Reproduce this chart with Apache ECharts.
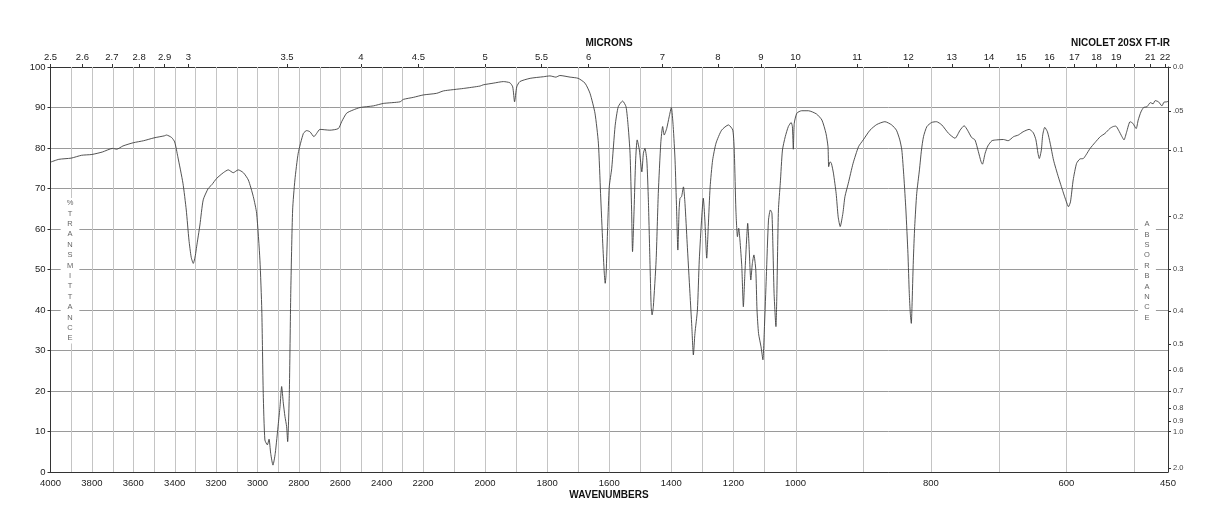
<!DOCTYPE html>
<html><head><meta charset="utf-8">
<script src="https://cdn.jsdelivr.net/npm/echarts@6/dist/echarts.min.js"></script>
<style>html,body{margin:0;padding:0;background:#fff}#c{width:1218px;height:528px}</style>
</head><body><div id="c"></div>
<script>
// ---- data ----
const wavenumberLabels = [4000,3800,3600,3400,3200,3000,2800,2600,2400,2200,2000,1800,1600,1400,1200,1000,800,600,450];
const gridWavenumbers = [3900,3800,3700,3600,3500,3400,3300,3200,3100,3000,2900,2800,2700,2600,2500,2400,2300,2200,2100,2000,1900,1800,1700,1600,1500,1400,1300,1200,1100,1000,900,800,700,600,500];
const micronTicks = [2.5,2.6,2.7,2.8,2.9,3,3.5,4,4.5,5,5.5,6,7,8,9,10,11,12,13,14,15,16,17,18,19,20,21,22];
const micronLabels = ['2.5','2.6','2.7','2.8','2.9','3','3.5','4','4.5','5','5.5','6','7','8','9','10','11','12','13','14','15','16','17','18','19','','21','22'];
const absorbanceTicks = [0,0.05,0.1,0.2,0.3,0.4,0.5,0.6,0.7,0.8,0.9,1.0,2.0];
const absorbanceLabels = ['0.0','.05','0.1','0.2','0.3','0.4','0.5','0.6','0.7','0.8','0.9','1.0','2.0'];
// piecewise wavenumber scale segments (equal widths on the chart)
const scaleSegments = [[4000,2200],[2200,1000],[1000,450]];

const wavenumber = [4000,3960,3900,3850,3800,3750,3700,3680,3650,3600,3550,3500,3450,3440,3415,3400,3385,3360,3344,3331,3320,3310,3300,3294,3278,3262,3238,3221,3197,3165,3141,3117,3093,3068,3044,3020,3004,2988,2979,2972,2964,2952,2944,2936,2925,2914,2899,2891,2883,2875,2867,2859,2854,2846,2839,2830,2819,2803,2778,2762,2746,2727,2714,2698,2650,2609,2593,2569,2537,2504,2440,2392,2311,2295,2247,2199,2156,2134,2070,2016,2006,1974,1941,1920,1911,1905,1898,1888,1855,1812,1791,1772,1759,1726,1700,1678,1662,1646,1635,1628,1621,1616,1613,1610,1605,1600,1592,1581,1571,1557,1546,1539,1533,1528,1525,1520,1515,1510,1503,1495,1490,1485,1479,1474,1469,1465,1462,1458,1449,1442,1434,1428,1423,1415,1407,1400,1394,1388,1383,1379,1375,1372,1367,1361,1356,1349,1340,1334,1329,1324,1316,1310,1302,1297,1292,1286,1281,1275,1267,1256,1238,1216,1202,1197,1192,1187,1183,1179,1173,1168,1163,1157,1154,1150,1144,1139,1134,1128,1124,1119,1111,1105,1100,1094,1087,1081,1076,1073,1069,1063,1060,1055,1049,1042,1033,1023,1014,1010,1007,1004,998,991,981,969,961,955,952,951,949,947,944,940,937,934,930,927,922,915,907,900,890,880,868,858,851,846,843,840,837,834,832,830.5,829,828,826,824,821,817,814,811,806,799,792,784,774,764.5,757,751,746,740,735,730,726,724,720,716,710,703,693,686,678,671,664,655,649,645,642,640,637,635,632,628,624,619,612,605,600,597,594,590,585,580,575,571,565,558,550,543,536,531,527,523,518,515,511,506,502,497,494,490,486,481,476,472,469,464,459,456,452,450];
const transmittance = [76.5,77.2,77.5,78.2,78.4,79.0,79.9,79.7,80.5,81.3,81.8,82.5,83.0,83.2,82.6,81.5,77.9,71.3,64.7,57.3,53.0,51.5,53.5,55.6,61.0,67.2,70.0,70.9,72.5,73.9,74.6,73.9,74.6,73.9,72.1,68.0,63.9,52.3,40.0,19.4,7.9,6.7,8.1,4.6,1.7,4.6,12.0,16.1,21.1,17.0,13.7,11.2,7.5,19.4,44.1,64.7,72.1,78.7,83.6,84.3,84.0,82.8,83.6,84.6,84.4,84.8,86.5,88.6,89.4,90.0,90.4,91.0,91.4,92.0,92.5,93.1,93.5,94.1,94.7,95.3,95.6,96.0,96.4,96.1,95.1,91.4,95.1,96.4,97.2,97.6,97.8,97.5,97.9,97.5,97.2,96.0,93.5,88.6,81.2,68.8,56.5,49.1,46.6,49.1,60.6,70.4,75.0,85.5,90.2,91.6,90.2,85.3,78.7,64.7,54.4,64.7,77.0,82.0,79.5,74.1,78.7,79.9,77.0,67.2,52.3,40.8,38.8,40.8,52.3,68.8,81.2,85.3,83.2,84.8,87.7,90.0,85.3,77.0,64.7,54.8,64.7,67.6,68.0,70.4,66.3,56.5,44.1,35.9,28.9,34.2,40.0,52.3,63.0,67.6,62.2,52.8,60.6,70.4,77.0,81.2,84.4,85.7,84.4,78.7,64.7,58.1,60.2,57.3,50.7,40.8,49.1,58.1,61.4,56.5,47.4,51.5,53.6,50.0,40.0,34.2,30.9,27.7,35.9,48.2,62.2,64.7,63.9,56.5,44.1,35.9,44.1,64.7,71.3,79.5,82.8,85.3,86.3,85.3,79.7,86.1,88.6,89.2,89.2,88.4,86.9,83.6,80.3,75.4,76.6,76.2,73.8,68.8,63.0,60.6,63.9,68.0,71.3,76.2,80.3,82.0,84.4,85.8,86.5,85.7,84.4,82.0,79.5,72.9,64.7,54.0,44.1,39.2,36.7,40.8,52.3,60.6,68.8,74.6,79.5,82.8,85.3,86.3,86.5,85.7,83.6,82.4,84.4,85.5,84.4,82.6,82.0,79.1,76.6,76.0,78.7,80.5,81.8,82.0,82.1,81.8,82.8,83.2,84.0,84.6,83.8,82.0,78.7,77.4,79.5,83.2,85.1,84.0,81.2,77.0,72.9,69.2,66.7,65.5,66.7,72.1,76.2,77.3,77.4,78.3,79.9,81.3,82.8,83.6,84.8,85.3,85.4,84.4,82.8,82.0,84.0,86.5,86.1,84.8,86.9,88.9,90.0,90.2,91.2,90.9,91.7,91.4,90.4,91.3,91.4,91.5];

// ---- scale helpers ----
function toU(w){
  for (let i=0;i<scaleSegments.length;i++){
    const a=scaleSegments[i][0], b=scaleSegments[i][1];
    if (w<=a && w>=b) return i + (a-w)/(a-b);
  }
  return w>4000?0:3;
}
function nearestIndex(arr, v){
  let best=0, bd=Infinity;
  arr.forEach((x,i)=>{const d=Math.abs(x-v); if(d<bd){bd=d;best=i;}});
  return best;
}
const wnLabelU = wavenumberLabels.map(toU);
const micronU = micronTicks.map(m=>toU(10000/m));
const absT = absorbanceTicks.map(a=>100*Math.pow(10,-a));

const FONT = 'Liberation Sans, Arial, sans-serif';
const chart = echarts.init(document.getElementById('c'), null, {renderer:'canvas'});
chart.setOption({
  animation:false,
  backgroundColor:'#fff',
  grid:{left:50.5, right:50, top:67, bottom:56, containLabel:false},
  xAxis:[
    {type:'value', position:'bottom', min:0, max:3,
     axisLine:{show:true, onZero:false, lineStyle:{color:'#333', width:1}},
     axisTick:{show:false},
     splitLine:{show:false},
     axisLabel:{customValues:wnLabelU, margin:6, fontSize:9.5, color:'#222', fontFamily:FONT,
       formatter:(v)=>String(wavenumberLabels[nearestIndex(wnLabelU,v)])}},
    {type:'value', position:'top', min:0, max:3,
     axisLine:{show:true, onZero:false, lineStyle:{color:'#333', width:1}},
     axisTick:{show:true, customValues:micronU, length:3, lineStyle:{color:'#333'}},
     splitLine:{show:false},
     axisLabel:{customValues:micronU, margin:5, fontSize:9.5, color:'#222', fontFamily:FONT,
       formatter:(v)=>micronLabels[nearestIndex(micronU,v)]}}
  ],
  yAxis:[
    {type:'value', position:'left', min:0, max:100, interval:10,
     axisLine:{show:true, onZero:false, lineStyle:{color:'#333', width:1}},
     axisTick:{show:true, length:3, lineStyle:{color:'#333'}},
     splitLine:{show:true, lineStyle:{color:'#9a9a9a', width:1}},
     axisLabel:{margin:5, fontSize:9.5, color:'#222', fontFamily:FONT}},
    {type:'value', position:'right', min:0, max:100,
     axisLine:{show:true, onZero:false, lineStyle:{color:'#333', width:1}},
     axisTick:{show:true, customValues:absT, length:3, lineStyle:{color:'#333'}},
     splitLine:{show:false},
     axisLabel:{customValues:absT, margin:5, fontSize:7.5, color:'#444', fontFamily:FONT,
       formatter:(v)=>absorbanceLabels[nearestIndex(absT,v)]}}
  ],
  series:[
    {type:'custom', xAxisIndex:0, yAxisIndex:0, z:1, silent:true,
     data:gridWavenumbers.map(w=>[toU(w),0]),
     renderItem:(params, api)=>{
       const p0=api.coord([api.value(0),0]);
       const p1=api.coord([api.value(0),100]);
       const x=Math.round(p0[0])+0.5;
       return {type:'line', shape:{x1:x,y1:p0[1],x2:x,y2:p1[1]}, style:{stroke:'#c4c4c4', lineWidth:1}};
     }},
    {type:'line', xAxisIndex:0, yAxisIndex:0, z:5, silent:true,
     data:wavenumber.map((w,i)=>[toU(w),transmittance[i]]),
     showSymbol:false, smooth:0.2,
     lineStyle:{color:'#404040', width:0.9}}
  ],
  graphic:[
    {type:'text', left:'center', top:38, z:10,
     style:{text:'MICRONS', font:'bold 10px '+FONT, fill:'#111'}},
    {type:'text', right:48, top:38, z:10,
     style:{text:'NICOLET 20SX FT-IR', font:'bold 10px '+FONT, fill:'#111'}},
    {type:'text', left:'center', top:490, z:10,
     style:{text:'WAVENUMBERS', font:'bold 10px '+FONT, fill:'#111'}},
    {type:'text', x:70, y:198, z:10,
     style:{text:'%\nT\nR\nA\nN\nS\nM\nI\nT\nT\nA\nN\nC\nE', font:'7.5px '+FONT, fill:'#666',
       align:'center', lineHeight:10.4, backgroundColor:'#fff', padding:[0,6]}},
    {type:'text', x:1147, y:219, z:10,
     style:{text:'A\nB\nS\nO\nR\nB\nA\nN\nC\nE', font:'7.5px '+FONT, fill:'#666',
       align:'center', lineHeight:10.4, backgroundColor:'#fff', padding:[0,6]}}
  ]
});
</script>
</body></html>
